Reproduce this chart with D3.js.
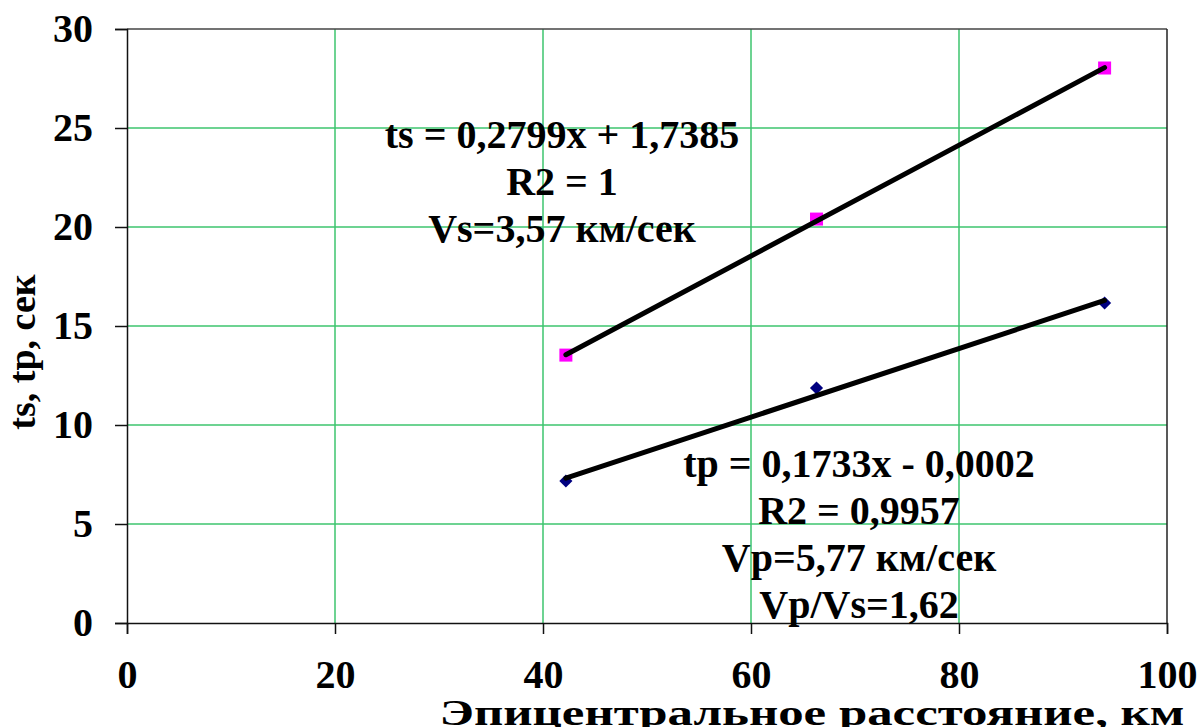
<!DOCTYPE html>
<html>
<head>
<meta charset="utf-8">
<script src="https://cdn.jsdelivr.net/npm/d3@7"></script>
<style>
  body { margin: 0; background: #fff; }
  svg { display: block; font-family: "Liberation Serif", "Times New Roman", serif; font-weight: bold; }
</style>
</head>
<body>
<svg id="chart" width="1200" height="727"></svg>
<script>
// distances (km) and arrival times (sec)
const distances = [42.2, 66.3, 94.0];
const tsValues = [13.53, 20.4, 28.03];
const tpValues = [7.17, 11.87, 16.16];

// trend lines: [slope, intercept]
const tsFit = [0.2799, 1.7385];
const tpFit = [0.1733, -0.0002];

const xTicks = [0, 20, 40, 60, 80, 100];
const yTicks = [0, 5, 10, 15, 20, 25, 30];

const tsLabels = ["ts = 0,2799x + 1,7385", "R2 = 1", "Vs=3,57 км/сек"];
const tpLabels = ["tp = 0,1733x - 0,0002", "R2 = 0,9957", "Vp=5,77 км/сек", "Vp/Vs=1,62"];

const xTitle = "Эпицентральное расстояние, км";
const yTitle = "ts, tp, сек";

const width = 1200;
const height = 727;
const marginLeft = 127;
const marginRight = 33;
const marginTop = 29;
const marginBottom = 104;

const svg = d3.select("#chart");

const x = d3.scaleLinear().domain([0, 100]).range([marginLeft, width - marginRight]);
const y = d3.scaleLinear().domain([0, 30]).range([height - marginBottom, marginTop]);

const gridColor = "#3cc46e";

// gridlines
svg.append("g")
  .selectAll("line")
  .data(xTicks.slice(1, -1))
  .join("line")
  .attr("x1", (d) => x(d))
  .attr("x2", (d) => x(d))
  .attr("y1", y(0))
  .attr("y2", y(30))
  .attr("stroke", gridColor)
  .attr("stroke-width", 1.5);

svg.append("g")
  .selectAll("line")
  .data(yTicks.slice(1, -1))
  .join("line")
  .attr("x1", x(0))
  .attr("x2", x(100))
  .attr("y1", (d) => y(d))
  .attr("y2", (d) => y(d))
  .attr("stroke", gridColor)
  .attr("stroke-width", 1.5);

// frame top / right
svg.append("line")
  .attr("x1", x(0)).attr("x2", x(100))
  .attr("y1", y(30)).attr("y2", y(30))
  .attr("stroke", "#444").attr("stroke-width", 1.5);
svg.append("line")
  .attr("x1", x(100)).attr("x2", x(100))
  .attr("y1", y(30)).attr("y2", y(0))
  .attr("stroke", "#222").attr("stroke-width", 1.5);

// axes
const xAxis = svg.append("g")
  .attr("transform", `translate(0, ${y(0)})`)
  .call(d3.axisBottom(x).tickValues(xTicks).tickSize(11).tickPadding(28).tickFormat(d3.format("d")));

const yAxis = svg.append("g")
  .attr("transform", `translate(${x(0)}, 0)`)
  .call(d3.axisLeft(y).tickValues(yTicks).tickSize(12).tickPadding(22).tickFormat(d3.format("d")));

[xAxis, yAxis].forEach((g) => {
  g.select(".domain").attr("stroke", "#111").attr("stroke-width", 1.5);
  g.selectAll(".tick line").attr("stroke", "#111").attr("stroke-width", 1.5);
  g.selectAll(".tick text")
    .attr("fill", "#000")
    .style("font-size", "40px")
    .style("font-family", "Liberation Serif, serif")
    .style("font-weight", "bold");
});
xAxis.selectAll(".tick text").attr("dy", "0.66em");

// trend lines
const fitLine = (fit) => {
  const x0 = d3.min(distances);
  const x1 = d3.max(distances);
  return [[x0, fit[0] * x0 + fit[1]], [x1, fit[0] * x1 + fit[1]]];
};
const line = d3.line().x((d) => x(d[0])).y((d) => y(d[1]));

// markers
svg.append("g")
  .selectAll("rect")
  .data(distances.map((d, i) => [d, tsValues[i]]))
  .join("rect")
  .attr("x", (d) => x(d[0]) - 6.5)
  .attr("y", (d) => y(d[1]) - 6.5)
  .attr("width", 13)
  .attr("height", 13)
  .attr("fill", "#ff00ff");

svg.append("g")
  .selectAll("path")
  .data(distances.map((d, i) => [d, tpValues[i]]))
  .join("path")
  .attr("transform", (d) => `translate(${x(d[0])}, ${y(d[1])})`)
  .attr("d", d3.symbol(d3.symbolDiamond2, 110))
  .attr("fill", "#000080");

[tsFit, tpFit].forEach((fit) => {
  svg.append("path")
    .datum(fitLine(fit))
    .attr("d", line)
    .attr("fill", "none")
    .attr("stroke", "#000")
    .attr("stroke-width", 5)
    .attr("stroke-linecap", "round");
});

// annotations
const addLabel = (lines, cx, baseline) => {
  svg.append("g")
    .selectAll("text")
    .data(lines)
    .join("text")
    .attr("x", cx)
    .attr("y", (d, i) => baseline + i * 47)
    .attr("text-anchor", "middle")
    .attr("fill", "#000")
    .style("font-size", "40px")
    .text((d) => d);
};
addLabel(tsLabels, 562, 148);
addLabel(tpLabels, 859, 477);

// axis titles (glyphs stretched wide like the source picture)
svg.append("text")
  .attr("x", 812)
  .attr("y", 725)
  .attr("text-anchor", "middle")
  .attr("textLength", 745)
  .attr("lengthAdjust", "spacingAndGlyphs")
  .attr("fill", "#000")
  .style("font-size", "35px")
  .text(xTitle);

svg.append("text")
  .attr("transform", `translate(35, 352) rotate(-90)`)
  .attr("text-anchor", "middle")
  .attr("fill", "#000")
  .style("font-size", "38px")
  .text(yTitle);
</script>
</body>
</html>
